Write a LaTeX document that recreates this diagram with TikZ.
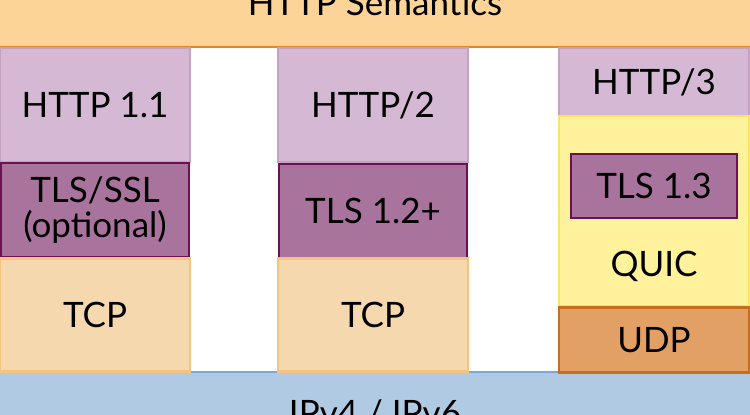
\documentclass[tikz,border=0pt]{standalone}
\usepackage{fontspec}
\setmainfont{Lato}
\usepackage{tikz}

\definecolor{semfill}{HTML}{FDD498}
\definecolor{semline}{HTML}{F0821E}
\definecolor{httpfill}{HTML}{D5B9D4}
\definecolor{httpline}{HTML}{C4A2C4}
\definecolor{tlsfill}{HTML}{A8739C}
\definecolor{tlsline}{HTML}{6E1150}
\definecolor{tcpfill}{HTML}{F5D8AE}
\definecolor{tcpline}{HTML}{F4C47E}
\definecolor{quicfill}{HTML}{FFF29C}
\definecolor{quicline}{HTML}{F9E45E}
\definecolor{udpfill}{HTML}{E2A065}
\definecolor{udpline}{HTML}{C86C1E}
\definecolor{ipfill}{HTML}{B1CAE3}
\definecolor{ipline}{HTML}{7FA7D4}

\begin{document}
\begin{tikzpicture}[x=1pt,y=-1pt,
  layer/.style={draw, line width=2.5pt, inner sep=0pt, outer sep=0pt,
    font=\fontsize{35}{38}\selectfont, align=center},
  sem/.style={layer, fill=semfill, draw=semline},
  http/.style={layer, fill=httpfill, draw=httpline},
  tls/.style={layer, fill=tlsfill, draw=tlsline},
  tcp/.style={layer, fill=tcpfill, draw=tcpline},
  quic/.style={layer, fill=quicfill, draw=quicline},
  udp/.style={layer, fill=udpfill, draw=udpline},
  ip/.style={layer, fill=ipfill, draw=ipline}]
\useasboundingbox (0,0) rectangle (750,415);
\clip (0,0) rectangle (750,415);

% semantics and network layer
\node[sem, minimum width=760pt, minimum height=94pt] (sem) at (375,0) {};
\node[font=\fontsize{35}{38}\selectfont] (semtext) at (375,3) {HTTP Semantics};
\node[ip, minimum width=760pt, minimum height=90pt] (ip) at (375,417) {};
\node[font=\fontsize{35}{38}\selectfont] (iptext) at (375,413) {IPv4 / IPv6};

% HTTP 1.1
\node[http, minimum width=190pt, minimum height=114pt] (h1) at (95,105) {HTTP 1.1};
\node[tls, minimum width=188pt, minimum height=94pt] (tls1) at (95,210) {TLS/SSL\\[-3pt](optional)};
\node[tcp, minimum width=190pt, minimum height=113pt] (tcp1) at (95,315) {TCP};

% HTTP/2
\node[http, minimum width=190pt, minimum height=114pt] (h2) at (373,105) {HTTP/2};
\node[tls, minimum width=188pt, minimum height=94pt] (tls2) at (373,211) {TLS 1.2+};
\node[tcp, minimum width=190pt, minimum height=113pt] (tcp2) at (373,315) {TCP};

% HTTP/3
\node[http, minimum width=190pt, minimum height=68pt] (h3) at (654,82) {HTTP/3};
\node[quic, minimum width=190pt, minimum height=190pt] (quic) at (654,211) {};
\node[font=\fontsize{35}{38}\selectfont] (quictext) at (654,266) {QUIC};
\node[tls, minimum width=166pt, minimum height=64pt] (tls3) at (654,186) {TLS 1.3};
\node[udp, minimum width=190pt, minimum height=65pt] (udp) at (654,340) {UDP};
\end{tikzpicture}
\end{document}
